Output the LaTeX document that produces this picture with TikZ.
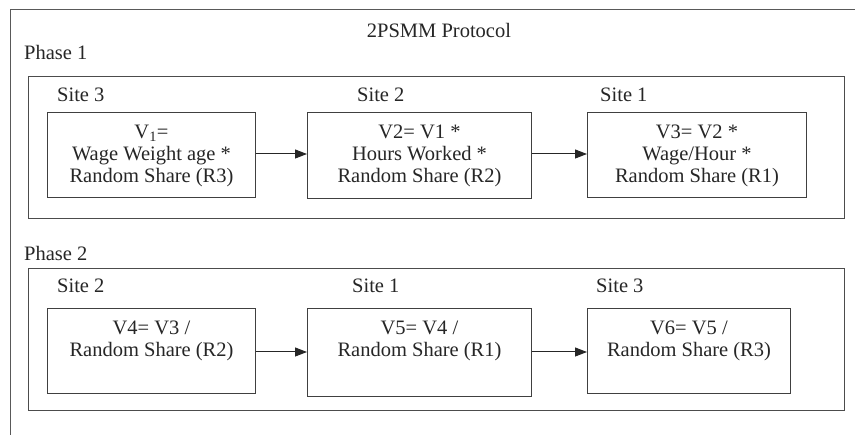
\documentclass[tikz,border=0pt]{standalone}
\usepackage{fontspec}
\setmainfont{Liberation Serif}
\usetikzlibrary{arrows.meta}
\begin{document}
\begin{tikzpicture}[x=1pt,y=-1pt,
  every node/.style={font=\rmfamily\fontsize{20.5}{22}\selectfont, text=black!85},
  frame/.style={draw=black!65, line width=1pt},
  phasebox/.style={draw=black!70, line width=1pt, inner sep=0, anchor=north west},
  stepbox/.style={draw=black!75, line width=1pt, inner sep=0, anchor=north west},
  boxtext/.style={align=center, inner sep=0, anchor=north},
  lbl/.style={anchor=west, inner sep=0},
  conn/.style={draw=black!85, line width=1pt, -{Triangle[length=12pt,width=9pt]}}]
\useasboundingbox (0,0) rectangle (855,435);
% outer frame (top and left edges visible)
\coordinate (otl) at (10,10);
\coordinate (otr) at (856,10);
\coordinate (obl) at (10,436);
\draw[frame] (otr) -- (otl) -- (obl);
\node[inner sep=0] (title) at (439,30) {2PSMM Protocol};
% Phase 1
\node[lbl] (ph1) at (24,52) {Phase 1};
\node[phasebox, minimum width=816, minimum height=142] (p1) at (28,76) {};
\node[lbl] (s13) at (57,95) {Site 3};
\node[lbl] (s12) at (357,95) {Site 2};
\node[lbl] (s11) at (600,95) {Site 1};
\node[stepbox, minimum width=208, minimum height=85] (b1) at (47,112) {};
\node[stepbox, minimum width=224, minimum height=86] (b2) at (307,112) {};
\node[stepbox, minimum width=219, minimum height=85] (b3) at (587,112) {};
\node[boxtext] (t1) at ([yshift=-13]b1.north) {V\textsubscript{1}=\\Wage Weight age *\\Random Share (R3)};
\node[boxtext] (t2) at ([yshift=-13]b2.north) {V2= V1 *\\Hours Worked *\\Random Share (R2)};
\node[boxtext] (t3) at ([yshift=-13]b3.north) {V3= V2 *\\Wage/Hour *\\Random Share (R1)};
\draw[conn] (b1.east |- 0,154) -- (b2.west |- 0,154);
\draw[conn] (b2.east |- 0,154) -- (b3.west |- 0,154);
% Phase 2
\node[lbl] (ph2) at (24,253) {Phase 2};
\node[phasebox, minimum width=816, minimum height=142] (p2) at (28,268) {};
\node[lbl] (s22) at (57,286) {Site 2};
\node[lbl] (s21) at (352,286) {Site 1};
\node[lbl] (s23) at (596,286) {Site 3};
\node[stepbox, minimum width=208, minimum height=85] (b4) at (47,308) {};
\node[stepbox, minimum width=224, minimum height=88] (b5) at (307,308) {};
\node[stepbox, minimum width=203, minimum height=85] (b6) at (587,308) {};
\node[boxtext] (t4) at ([yshift=-13]b4.north) {V4= V3 /\\Random Share (R2)};
\node[boxtext] (t5) at ([yshift=-13]b5.north) {V5= V4 /\\Random Share (R1)};
\node[boxtext] (t6) at ([yshift=-13]b6.north) {V6= V5 /\\Random Share (R3)};
\draw[conn] (b4.east |- 0,352) -- (b5.west |- 0,352);
\draw[conn] (b5.east |- 0,352) -- (b6.west |- 0,352);
\end{tikzpicture}
\end{document}
